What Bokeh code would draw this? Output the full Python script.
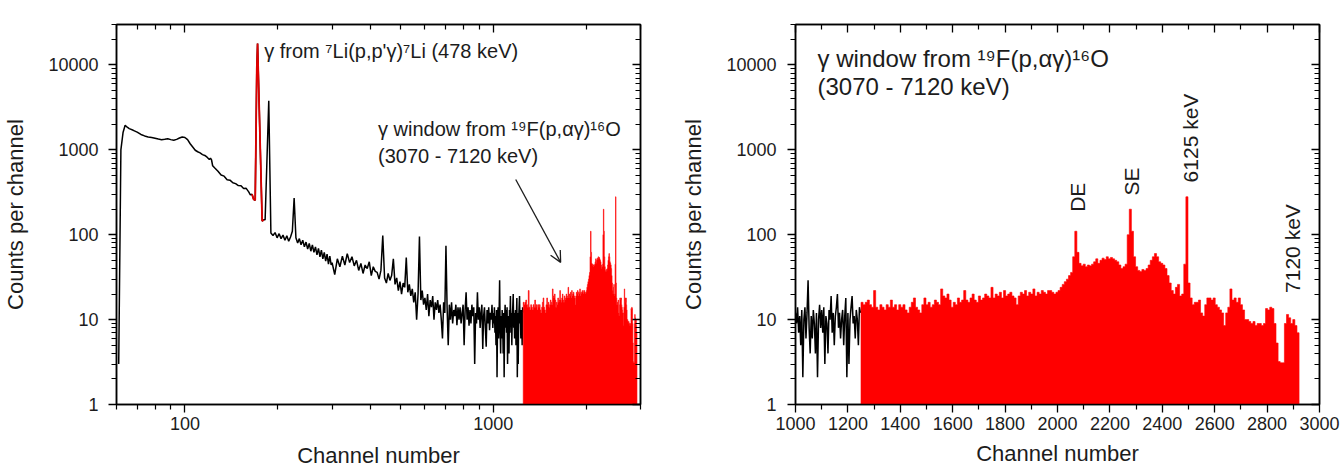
import numpy as np
from bokeh.plotting import figure
from bokeh.layouts import row
from bokeh.models import (FixedTicker, PrintfTickFormatter, CustomJSTickFormatter,
                          LogAxis, LinearAxis, Label, Arrow, OpenHead)
from bokeh.embed import file_html
from bokeh.resources import INLINE

FONT = "Liberation Sans"
INK = "#1c1c1c"

# ---------------------------------------------------------------- spectrum data
# low-energy part, channel by channel where the shape changes
low_channels = [61, 62, 63, 64, 65, 66, 68, 70, 72, 74, 76, 78, 80, 82, 84, 86,
                88, 90, 92, 94, 96, 98, 100, 102, 104, 106, 108, 110, 112, 114,
                116, 118, 120, 121, 122, 123, 125, 128, 131, 134, 137, 140, 143,
                146, 149, 152, 155, 158, 161, 163, 165, 167, 169, 171, 172, 178,
                180, 182, 187, 190]
low_counts = [3, 1000, 1600, 1950, 1850, 1780, 1700, 1620, 1520, 1460, 1420, 1400,
              1370, 1340, 1320, 1330, 1350, 1320, 1300, 1330, 1380, 1420, 1400,
              1320, 1180, 1080, 990, 950, 920, 880, 860, 820, 770, 800, 760, 650,
              610, 560, 505, 490, 445, 440, 410, 400, 380, 378, 350, 352, 320, 295,
              300, 262, 255, 9000, 17900, 145, 150, 150, 3800, 105]

# continuum 193-298, every 3 channels
mid_start, mid_step = 193, 3
mid_counts = [98, 106, 92, 103, 90, 99, 86, 97, 84, 94,
              110, 270, 92, 80, 90, 76, 86, 72, 82, 68,
              79, 64, 76, 62, 72, 58, 69, 55, 66, 52,
              62, 49, 59, 45, 56, 44]

# continuum 300-996, every 6 channels
high_start, high_step = 300, 6
high_counts = [47, 34, 52, 42, 56, 44, 60, 47, 55, 43,
               50, 38, 46, 35, 44, 40, 48, 33, 42, 37,
               36, 30, 38, 98, 31, 27, 35, 29, 33, 52,
               26, 31, 22, 28, 20, 27, 24, 54, 21, 26,
               19, 23, 16, 21, 10, 20, 95, 17, 22, 15,
               18, 13, 20, 11, 17, 14, 19, 10, 16, 13,
               17, 12, 15, 10, 6, 16, 12, 74, 14, 5,
               15, 10, 16, 9, 13, 11, 15, 8.6, 14, 10,
               14, 9, 12, 15, 5, 13, 21, 10, 14, 8.5,
               13, 9, 15, 11, 14, 3, 12, 9, 21, 10,
               14, 8, 12, 15, 4.5, 11, 14, 8, 4.8, 13,
               9, 14, 7.5, 12, 10, 15, 8]

# continuum 1000-1248, every 4 channels
tail_start, tail_step = 1000, 4
tail_counts = [12, 9, 14, 7, 11, 5, 13, 2.1, 10, 14,
               6, 12, 29, 8, 4, 11, 6, 13, 9, 4,
               12, 2.1, 10, 15, 8, 13, 7, 14, 3, 11,
               9, 4, 13, 10, 19, 7, 12, 5, 11, 14,
               20, 8, 12, 6, 10, 13, 5, 11, 18, 2.1,
               12, 3, 10, 14, 19, 9, 11, 6, 13, 10,
               5, 14, 12]

# 19F(p,ag)16O gamma window, 8-channel bins from channel 1250
window_start, window_step = 1250, 8
window_counts = [16, 15, 16, 17, 15, 14, 22, 14, 13, 15,
                 14, 13, 15, 14, 17, 14, 15, 13, 15, 14,
                 15, 13, 12, 14, 16, 18, 14, 13, 12, 15,
                 18, 15, 16, 14, 15, 17, 16, 15, 23, 19,
                 18, 20, 17, 14, 16, 15, 18, 16, 17, 22,
                 17, 16, 18, 20, 17, 16, 19, 17, 18, 20,
                 19, 18, 24, 18, 20, 19, 21, 18, 22, 19,
                 20, 21, 19, 18, 15, 19, 21, 20, 22, 19,
                 21, 20, 23, 19, 21, 20, 22, 21, 20, 22,
                 22, 21, 20, 21, 22, 24, 26, 28, 30, 33,
                 36, 55, 110, 62, 46, 43, 45, 42, 44, 43,
                 45, 48, 52, 46, 50, 53, 51, 55, 52, 54,
                 52, 50, 48, 44, 40, 42, 45, 100, 200, 110,
                 55, 42, 38, 37, 39, 38, 40, 44, 50, 55,
                 60, 55, 48, 46, 44, 40, 33, 27, 22, 20,
                 24, 26, 19, 20, 45, 280, 27, 18, 15, 16,
                 16, 17, 12, 11, 15, 18, 18, 17, 18, 15,
                 14, 13, 12, 8.5, 12, 14, 23, 17, 18, 16,
                 18, 15, 13, 10, 10, 9.5, 9, 9.5, 8.5, 9,
                 9, 8.5, 9, 13.5, 13, 14, 13.5, 9, 5.3, 3.2,
                 3.1, 3.1, 9, 11.5, 10.5, 9, 10, 8.5, 7]

# channels of the 478 keV line from 7Li(p,p'g)7Li
li_channels = (165, 180)

y_ticks = [1, 10, 100, 1000, 10000]
y_minor = [m * 10 ** k for k in range(0, 4) for m in range(2, 10)] + [20000, 30000]
log_x_ticks = [100, 1000]
log_x_minor = [60, 70, 80, 90] + [m * 100 for m in range(2, 10)] + [2000, 3000]
lin_x_ticks = list(range(1000, 3001, 200))
lin_x_minor = list(range(1100, 3000, 200))

# ---------------------------------------------------------------- derived arrays
ch_black = np.concatenate([
    np.array(low_channels, dtype=float),
    mid_start + mid_step * np.arange(len(mid_counts)),
    high_start + high_step * np.arange(len(high_counts)),
    tail_start + tail_step * np.arange(len(tail_counts)),
])
cnt_black = np.concatenate([low_counts, mid_counts, high_counts, tail_counts]).astype(float)

li_mask = (ch_black >= li_channels[0]) & (ch_black <= li_channels[1])

edges = window_start + window_step * np.arange(len(window_counts) + 1)
win_x = np.concatenate([[edges[0]], np.repeat(edges, 2)[1:-1], [edges[-1]]])
win_y = np.concatenate([[1.0], np.repeat(np.array(window_counts, float), 2), [1.0]])

Y_TOP = 30000.0
FIG_H = 471


def style_axis(ax, label_standoff, title_standoff):
    ax.axis_line_width = 1.5
    ax.axis_line_color = "black"
    ax.major_tick_out = 8
    ax.major_tick_in = 0
    ax.minor_tick_out = 5
    ax.minor_tick_in = 0
    ax.major_tick_line_width = 1.3
    ax.minor_tick_line_width = 1.2
    ax.major_tick_line_color = "black"
    ax.minor_tick_line_color = "black"
    ax.major_label_text_font = FONT
    ax.major_label_text_font_size = "18px"
    ax.major_label_text_color = INK
    ax.major_label_text_line_height = 1.0
    ax.major_label_standoff = label_standoff
    ax.axis_label_text_font = FONT
    ax.axis_label_text_font_size = "22px"
    ax.axis_label_text_font_style = "normal"
    ax.axis_label_text_color = INK
    ax.axis_label_text_line_height = 1.0
    ax.axis_label_standoff = title_standoff


def mirror_axis(cls, ticks, minor):
    ax = cls(ticker=FixedTicker(ticks=ticks, minor_ticks=minor),
             formatter=CustomJSTickFormatter(code="return ''"))
    ax.axis_line_width = 1.5
    ax.major_tick_in = 8
    ax.major_tick_out = 0
    ax.minor_tick_in = 5
    ax.minor_tick_out = 0
    ax.major_tick_line_width = 1.3
    ax.minor_tick_line_width = 1.2
    ax.major_label_text_font_size = "0px"
    ax.major_label_standoff = 0
    return ax


def base_figure(x_type, x_range, left, right, top, frame_bottom):
    p = figure(width=670, height=FIG_H, x_axis_type=x_type, y_axis_type="log",
               x_range=x_range, y_range=(1, Y_TOP),
               output_backend="svg", toolbar_location=None,
               min_border_left=left, min_border_right=right,
               min_border_top=top, min_border_bottom=FIG_H - frame_bottom,
               background_fill_color="white", border_fill_color="white")
    p.xgrid.visible = False
    p.ygrid.visible = False
    p.outline_line_color = "black"
    p.outline_line_width = 1.5
    p.xaxis.axis_label = "Channel number"
    p.yaxis.axis_label = "Counts per channel"
    p.yaxis.ticker = FixedTicker(ticks=y_ticks, minor_ticks=y_minor)
    p.yaxis.formatter = PrintfTickFormatter(format="%d")
    return p


def add_text(p, xy, text, size, align="left", angle=0.0):
    p.add_layout(Label(x=xy[0], y=xy[1], text=text, text_font=FONT,
                       text_font_size=size, text_color=INK, text_align=align,
                       text_baseline="middle", angle=angle))


def left_xy(px, py):
    fx = (px - 115) / 525.0
    fy = (404 - py) / 385.0
    return 60 * 50 ** fx, 10 ** (fy * np.log10(Y_TOP))


def right_xy(px, py):
    fy = (409 - py) / 385.0
    return 1000 + (px - 795) / 524.0 * 2000, 10 ** (fy * np.log10(Y_TOP))


# ---------------------------------------------------------------- full spectrum (log channel axis)
p1 = base_figure("log", (60, 3000), 115, 30, 19, 404)
p1.xaxis.ticker = FixedTicker(ticks=log_x_ticks, minor_ticks=log_x_minor)
p1.xaxis.formatter = PrintfTickFormatter(format="%d")
style_axis(p1.xaxis[0], 4, 10)
style_axis(p1.yaxis[0], 10, 17)
p1.add_layout(mirror_axis(LogAxis, log_x_ticks, log_x_minor), "above")
p1.add_layout(mirror_axis(LogAxis, y_ticks, y_minor), "right")

p1.line(ch_black, cnt_black, line_color="black", line_width=1.5)
p1.line(ch_black[li_mask], cnt_black[li_mask], line_color="#e00000", line_width=1.8)
p1.patch(win_x, win_y, fill_color="#ff0000", line_color="#ff0000", line_width=0.6)

add_text(p1, left_xy(263, 46), "γ from ⁷Li(p,p'γ)⁷Li (478 keV)", "20px")
add_text(p1, left_xy(377, 125), "γ window from ¹⁹F(p,αγ)¹⁶O", "20px")
add_text(p1, left_xy(377, 152), "(3070 - 7120 keV)", "20px")
a0 = left_xy(515, 176)
a1 = left_xy(560, 260)
p1.add_layout(Arrow(end=OpenHead(size=11, line_width=1.3, line_color=INK),
                    x_start=a0[0], y_start=a0[1], x_end=a1[0], y_end=a1[1],
                    line_width=1.3, line_color=INK))

# ---------------------------------------------------------------- high-energy part (linear channel axis)
p2 = base_figure("linear", (1000, 3000), 125, 21, 24, 409)
p2.xaxis.ticker = FixedTicker(ticks=lin_x_ticks, minor_ticks=lin_x_minor)
p2.xaxis.formatter = PrintfTickFormatter(format="%d")
style_axis(p2.xaxis[0], 4, 8)
style_axis(p2.yaxis[0], 11, 17)
p2.add_layout(mirror_axis(LinearAxis, lin_x_ticks, lin_x_minor), "above")
p2.add_layout(mirror_axis(LogAxis, y_ticks, y_minor), "right")

p2.line(ch_black, cnt_black, line_color="black", line_width=1.5)
p2.patch(win_x, win_y, fill_color="#ff0000", line_color="#ff0000", line_width=0.6)

add_text(p2, right_xy(817, 58), "γ window from ¹⁹F(p,αγ)¹⁶O", "24px")
add_text(p2, right_xy(817, 87), "(3070 - 7120 keV)", "24px")
add_text(p2, right_xy(1077, 199), "DE", "21px", "center", np.pi / 2)
add_text(p2, right_xy(1131, 183), "SE", "21px", "center", np.pi / 2)
add_text(p2, right_xy(1190, 139), "6125 keV", "21px", "center", np.pi / 2)
add_text(p2, right_xy(1292, 251), "7120 keV", "21px", "center", np.pi / 2)

layout = row(p1, p2)
with open("out.html", "w", encoding="utf-8") as fh:
    fh.write(file_html(layout, INLINE))
